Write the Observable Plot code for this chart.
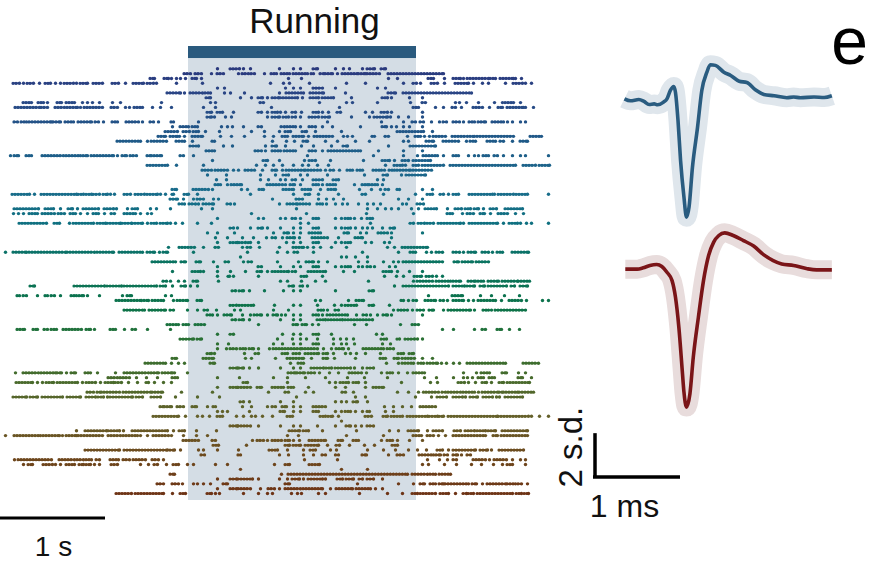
<!DOCTYPE html>
<html><head><meta charset="utf-8">
<script src="https://cdn.jsdelivr.net/npm/d3@7"></script>
<script src="https://cdn.jsdelivr.net/npm/@observablehq/plot@0.6"></script>
<style>
html,body{margin:0;padding:0;background:#fff}
#wrap{position:relative;width:870px;height:568px;overflow:hidden}
#wrap svg{position:absolute}
</style></head><body><div id="wrap"></div>
<script>
// Spike times per trial, in time bins of 1/105 s: single spikes "t", dense bursts "start-end"
const trialSpikes = [
"217 230-239 243 250 279 293 300 313-317 335 343 349 362 367-374 381-385",
"184-190 195-201 211 217-223 238 242-248 251-254 264 271-276 281-289 293-307 311-313 320-323 325-332 337 342-358 361-365 367-379 388-443",
"150-154 164-168 171 176 180 185 192-196 201 288 301 388 397 428-433 444 453-460 463 467-488 490-495 500-513 515 521",
"13-19 23 27-33 39 45-50 55 60 64-73 76 80-87 93-102 112-118 125 133-143 147-153 156 176 202 270 283 289 309 346 365 403 413-416 420 431-437 444 455-468 473 482 488 505 513-522 525 531",
"217 224 285 293 300 313-322 335 377 385",
"167-180 184 190-202 205-210 224 230 244 279 286-303 310-323 345 388-395 403-471",
"206-210 240 251 258-262 267 272-278 280-297 302 310-318 322-333 351 382-387 391 409 422",
"23-31 38-43 47 57-61 66-74 82 87 92 99 112 120 161 210 215 260-263 319 346 352 377 410 422-425 455 459 466 478 494 502 505-513 520",
"15-39 41-47 55-64 67-77 80 84-102 111-117 125 129 134-142 152 160 171 203 215 271 339 413-418 435 443 452-455 461 473-482 489 498-502 507-523 525 533",
"207-211 217-222 233 258-261 267 272-277 280 285 292-295 301 313-318 322 328 337-340 365 372 381-387 391 422",
"207-211 214 225 231 267 272-279 283-288 292-295 300 309-318 322-329 351 369 374-387 390 398 408 422",
"14-17 21-26 29-51 53-60 65-73 78-91 95-98 103 112-117 126-138 142 150-153 158 171-173 198 327 381 403 412-415 420-423 431 439 443-446 453-459 463 469-474 478-485 492-503 507 512 520 525",
"172 180-188 192-197 221 227 232 243 258-261 281-284 287-295 300 309-315 322 332 360 382-386 391 396 403 409 422",
"165-177 183-189 193-198 205 219 251 264 279 285-290 302-306 315 341 397-423 432",
"158-165 170-177 179 184 192-202 220 231 244 264 273 282-287 293-303 308 314-332 343 347 352 372-374 385-388 407 415-420 424 429 433-445 452-467 470-474 477-513 530-541",
"117-140 147 151-166 176-184 192 212-214 272 286 294 303-307 325 337 355 369 403 408 426-433 443-458 466 470-475 487-495 500-503 512 520-527",
"190-198 223 232 265 272-276 285 301 313 331 343-347 388 410-435",
"206-214 255-261 265 272-280 284-295 309-315 322 328-360 378 403 422",
"10 14-18 26-31 42-63 66-80 83-87 91-113 117 122-126 130-136 147-151 154-161 180-183 193 307 373 403 417 423-437 443 453-458 468 474 478 483-488 494-497 503 512 520 525 548",
"212 263-267 279 304 309-315 330 363 382-389 394 402-408 413-430",
"147-167 176 203 256 265 273 282 293 302 308 317 328 385 394-402 405 413-418 422-443 450-515 523-535 539-549",
"202-211 215-227 233 238 245-251 254 262 272-276 282 286-305 308-317 320 325 330-333 339 347-352 357-362 373-381 384 389-394 397-410 413-431",
"207 226 260 275 283-288 300 307 327 364 383-387 401 406-425",
"216 226 260 268 280 285 292-295 302 313-322 333-338 377 383",
"215-220 227 231-241 267-282 285 290-294 300 313-318 322 327-335 354 362-367 369-377 382",
"172-176 193-208 212 241 247 259-263 283-293 302-310 320 328-335 359 371 380 385-388 397-399 422 432",
"12-29 34 41-76 78-83 86-91 93-99 103-107 110 114 124-130 135-144 147-157 160 165 172-173 184-188 197 250 293 305-309 318 338 362-365 383 415 427-432 440-443 448 453-458 469-492 494 498-513 516-527 548",
"170-177 183 193 197-203 213 218 272 296-302 318 326 333 343 398 408 422",
"179-184 189-195 198 203-213 227-230 234 279 287-297 300-309 317-322 326 335 342 347 358 367 373 380 402 406 417-423",
"14-38 45-53 60 68-72 77 83-98 104-113 116 127 132-137 150 156 170 201 212 296 367 377 385 391 398 411 418 425-436 447 455-461 465-470 474-478 483 490-496 505-522",
"13 18 23 29-37 42-54 58-64 70-75 80 87 93-98 104 111-114 124-135 140 147 151 251 306 366 413 447-452 462 467-473 480-484 490 498-507 515 523",
"217 258 263 280 285 292-295 300 313-318 335 341 345-350 354 361 367-372",
"19-46 54-59 69 73-93 97-105 107-120 122-131 132-142 147 151-156 160-167 170 175 182 197 211 300 308 370 410-413 418-424 427-433 438-460 463 469-497 503 509-517 520 526 531 548",
"230-233 237 250 258-262 267 280 293 300 313-318 335 341 345-350 355 362 367 372 382 390-394",
"207 217 234 273 284-288 293 300 309-320 344-348 360 366 378-387 391 422",
"215 227 242 253 266 272-275 282 287-294 299 312-327 338 355-362 391",
"217 230-237 239-245 248-250 258 286 293 300 313-318 335 341 345-350 365 371 384 389",
"168 179-194 203 215-218 242 247-250 259 279 293-303 307 313 320 331 346 387 394 402-427",
"5 13-26 29-65 67-94 97-113 119-142 147-154 159 163-167 193 247 277 287 294-297 313 362 398 410-415 426 431 436-442 453-459 463 468-475 482-488 492 497-502 512-528",
"240 341 346 355 367",
"152-175 181-185 196-200 213 225-228 243 248-251 277 298 306-313 318 327 358 367 383 393 398 403-442 454-458 462-472 476-488",
"217 258-261 280 293 300 313-318 335 341 345-350 358 362 367-370 374 389 395",
"172 192-200 203 217 230 245 257-261 267 272-288 292-295 308-325 343 354 383-391 397 409 422",
"217 228-229 233 258 301-306 322 384 396 403 414-421 426-432 436 442",
"163-166 170 178 184 193-197 218 280 287 301 315 325 368 413 417-432 436-450 453-460 468-475 478-483 488-498 502-517 518-529",
"30-34 74-104 107-121 124-156 160-165 172 181-185 190 197 289-293 300-302 307 394 403-448 453-464 467-474 480-484 488-506 511-514 520-527",
"232-235 239-243 249 264 283 293 300 335 369-373",
"17-19 23-26 37 45-47 51-54 60 71-76 79-83 87 99 122 127-131 165 171 428 452-462 480 491 504 519",
"116-141 144-148 152-163 173 177-187 197-201 315 320 348 356-363 401-403 408 413-416 425-435 440-443 447 453-463 468 473 478-495 501 509-521 526 542 548",
"230-236 239-253 274 293 300 317 334 341 345-356 369-373 389",
"124-142 144 149-165 170-173 187 197 204-207 216 234 240 273 288 318-323 327 335-338 393 398-407 412 417-423 429-433 443 448-470 474 483-488 491 495-525",
"207-212 217 224-231 242 250 254-261 267 273-277 281 285 293 300 313-318 322 327-347 356 363-366 370 377 383-387 391 422",
"232-235 239-243 249 280 293 300 317-325 328-342 345-372",
"167-178 183-188 195-204 258 293-297 302-306 312 318 354 366 400 412-418",
"17-24 33-37 44-47 51-56 63-81 86-90 94 110-115 124 132-135 147 170 442 453 474 482-485 497-501 509 519",
"217 230-233 282 293 300 313-318 331 376 382",
"180-193 197-201 277 292 300 306 317 333 340 346 353 381-386 397-399 405-414 417 422",
"217 228 273 282 293 300 313-318 333 341 346 354 382 390",
"217 226 230-236 240-245 249-253 258 269 273-300 302-317 323 331 336-343 348 363-383 387-393",
"207-211 214 244 255-258 282-287 293-299 305-318 323-327 333 345 350 356 365 380 398-403 409-413",
"172-176 203-213 245 251 275 287-303 311 323-327 334 355 380-385 394-398 402-405 408-414 422 432",
"145-165 171 178 184 210-214 290 298-303 386 398 402-413 418-423 427-437 441 446 453 459 467-505 523-538",
"230-237 239-243 249 258 280 293 300 311-323 326-331 335-350 354 362 367-373",
"15 23-38 41-55 57-61 66 71-75 85-90 97 115 124-148 151-158 162-172 174 187 288-295 297-304 308-314 319 329 338 349-361 366 381 387-392 398 407 413-424 463 476 481-489 502-506 518 525",
"108-117 120-129 136 146 157 172-177 217 239 273 287 305 325 347 364 387 424 436 453 463 467 472 478-483 489-494 518-522 531",
"16-32 37 42 46-53 57-77 82 86-95 100 105-113 115-121 128 137 146-148 154 163 171 243-247 287 329 335 340-348 353-358 365 401 430 437 458-464 468 475 482-486 491 499-503 507-529",
"217 230-237 238-250 257-261 272-283 288-293 308 335 345 365 373-383",
"87-93 97-101 104-119 123-150 152-162 181 212 268 285-288 305 313 342-345 353 397 408 418 423 426-438 442-445 448-460 463-474 478 482-497 499-503 506-517 519-533",
"13-26 30-37 42-62 67-80 86-95 98-103 107 110-132 136-142 151-160 175 197 219 296 355 365 415 431 437-446 453-462 465 470-477 483-492 496 499 505-522",
"240-243 249 280 293 335 341 346 353-357 367",
"160-164 167-171 177-183 192-196 207 213-215 242 251 267 272-275 282-286 293 300 313-325 384 393 402 411 420-435",
"217 222 227 249 280-284 293 300 313-318 335 341 345-350 355 362 367-369 385 393",
"153-178 185 197 202 209 217-222 236 243 251 255 262 272 287-292 320-325 328-332 338 365-371 383-387 391-402 407-427 429-437 439-443 448-497 498-528 531 539 548",
"341",
"230-237 238-250 258 280 293 300 317 335 346-350 355 361 367-373",
"76 85-106 108-119 123 132-167 173 179-184 196 216 289-299 303-308 322 356 389 398 408-418 427 433-442 454-460 465-474 477-485 488-495 502-527",
"5 14-40 43-59 62 66-76 78-102 108-120 123-137 140 147 153-168 171 183 196 207 287 298 346 383 413-421 427-433 438 445 453-485 493-497 501-527",
"183-198 212-215 252 257-263 267 272-281 285-289 293 299 309-325 338-342 353-358 381 387-392 397 409 422",
"213-218 246 285-289 293-300 305-318 327 336-339 349 364 374 392-397",
"85-119 124-167 170-174 180 198 203 217 238 269-277 287 303 310-315 330 336 367 383 395 408 417 426 437-442 448 453-475 480-487 491 499-523",
"201-204 238-240 279 288 303 313 322-325 335 338 362-366 388 397-403 419-433 436-440 444-447 453-457 461 467-470",
"14 18-51 59-74 77-83 86-91 96-99 110-118 123-129 133-145 152-158 163 304 337 427 439 447 453-456 473-485 489 494-506 512 520 525",
"23 28-32 43-52 55 60 66-74 79-83 86-90 94 99 111-117 140 148 154-157 166 173-178 187 193 215 227 274 285-289 309-319 422 428 444 456 471 481 493 502 507-512 525",
"240 341 367",
"170-174 281 288-407 412-427 430-435 439-450",
"217 230-236 238-252 258 279 287 292-299 303 308-322 325 337-342 346-353 359-362 367-373 382",
"157-163 172-178 182 193 197 203 210 223-227 285-289 357 398 413 420-424 430-435 439-443 445-468 472-476 482 487-505 507-515 518-521 527",
"217 230-236 238-250 260 268-274 279 285-300 303-322 330 336-352 356-370 375 382",
"116-131 135-163 172 180-185 207-211 215 219 243 258 267 272 291 297 301 318 325 359 387 402 412-417 420-435 440-448 455 463-466 468-473 477-512 516-521 524-528"
];
const colorRows = [0, 5, 15, 25, 32, 40, 50, 58, 65, 72, 80, 88];
const colorStops = ["#2b3a7e","#2a4585","#1f5a88","#1a6c8c","#0f7080","#0a7360","#0e7348","#33702f","#4a6a2c","#65602a","#6e4a1e","#6e3416"];

const runningStart = 188, runningEnd = 416;
const secondBins = 105;

// Mean waveforms: time (ms from trough), amplitude (s.d.)
const waveTimeBlue = [-0.73,-0.66,-0.56,-0.50,-0.44,-0.38,-0.34,-0.27,-0.23,-0.19,-0.15,-0.13,-0.10,-0.07,-0.03,0,0.03,0.07,0.13,0.18,0.24,0.28,0.34,0.44,0.52,0.62,0.71,0.81,0.91,1.03,1.18,1.26,1.34,1.50,1.62,1.71];
const waveAmpBlue  = [0,-0.09,-0.03,-0.12,-0.26,-0.23,-0.27,-0.15,0,0.38,0.56,0.30,-0.98,-2.80,-4.47,-5.38,-4.92,-3.11,-1.29,0.38,1.21,1.55,1.52,1.21,1.06,0.80,0.74,0.41,0.20,0.14,0.05,0.08,0.05,0.08,0.06,0.14];
const waveTimeRed  = [-0.72,-0.58,-0.51,-0.43,-0.35,-0.29,-0.23,-0.17,-0.13,-0.09,-0.05,-0.03,0,0.04,0.08,0.14,0.20,0.26,0.32,0.38,0.45,0.55,0.67,0.79,0.91,1.02,1.12,1.26,1.42,1.53,1.71];
const waveAmpRed   = [0,0,0.06,0.17,0.21,0.12,-0.14,-0.52,-1.27,-2.64,-4.61,-5.59,-6.27,-5.67,-4.0,-2.18,-0.52,0.62,1.23,1.53,1.65,1.53,1.30,1.05,0.65,0.39,0.24,0.17,0.02,-0.03,-0.03];

const spikes = [], bursts = [];
trialSpikes.forEach((s, row) => {
  s.split(" ").forEach(tok => {
    const p = tok.split("-").map(Number);
    if (p.length === 1) spikes.push({row, t: p[0]});
    else bursts.push({row, t1: p[0], t2: p[1]});
  });
});

const font = "'Liberation Sans', sans-serif";
const wrap = document.getElementById("wrap");

// rows are laid out on a linear scale; row r sits at 68.3 + 4.826 r
const raster = Plot.plot({
  width: 870, height: 568, margin: 0,
  style: {background: "transparent", fontFamily: font, overflow: "visible"},
  x: {domain: [0, 870], range: [0, 870], axis: null},
  y: {domain: [-14.152, 103.54], range: [0, 568], axis: null},
  color: {type: "linear", domain: colorRows, range: colorStops, legend: false},
  marks: [
    Plot.rect([{a: runningStart, b: runningEnd}], {x1: "a", x2: "b", y1: -2.13, y2: 89.45, fill: "#d4dde5"}),
    Plot.rect([{a: runningStart, b: runningEnd}], {x1: "a", x2: "b", y1: -4.62, y2: -2.13, fill: "#2a5a7e"}),
    Plot.ruleY(bursts, {y: "row", x1: "t1", x2: "t2", stroke: "row", strokeWidth: 3.2, strokeLinecap: "round", strokeDasharray: "0.01 3"}),
    Plot.ruleY(bursts, {y: "row", x1: "t1", x2: "t2", stroke: "row", strokeWidth: 2, strokeLinecap: "butt"}),
    Plot.dot(spikes, {x: "t", y: "row", fill: "row", r: 1.7, stroke: "none"}),
    Plot.dot(bursts, {x: "t2", y: "row", fill: "row", r: 1.7, stroke: "none"}),
    Plot.text(["Running"], {x: 314, y: -9.64, text: d => d, fontSize: 35, fill: "#111", textAnchor: "middle", fontFamily: font}),
    Plot.text(["e"], {x: 849, y: -5.3, text: d => d, fontSize: 66, fill: "#000", textAnchor: "middle", fontFamily: font}),
    Plot.ruleY([93.1], {x1: 0, x2: secondBins, stroke: "#000", strokeWidth: 3}),
    Plot.text(["1 s"], {x: 53, y: 99.1, text: d => d, fontSize: 28, fill: "#111", textAnchor: "middle", fontFamily: font}),
    Plot.ruleX([594.5], {y1: 75.6, y2: 84.8, stroke: "#000", strokeWidth: 3.5}),
    Plot.ruleY([84.6], {x1: 593, x2: 680, stroke: "#000", strokeWidth: 3.5}),
    Plot.text(["1 ms"], {x: 624, y: 90.7, text: d => d, fontSize: 32, fill: "#111", textAnchor: "middle", fontFamily: font}),
    Plot.text(["2 s.d."], {x: 571, y: 78.4, text: d => d, fontSize: 33, fill: "#111", textAnchor: "middle", rotate: -90, fontFamily: font})
  ]
});
wrap.appendChild(raster);

function wave(times, amps, line, band, left, top, yDomain) {
  const data = times.map((t, i) => ({t, a: amps[i]}));
  const svg = Plot.plot({
    width: 270, height: 210, margin: 0,
    style: {background: "transparent", overflow: "visible"},
    x: {domain: [-1.0118, 2.1647], range: [0, 270], axis: null},
    y: {domain: yDomain, range: [0, 210], axis: null},
    marks: [
      Plot.line(data, {x: "t", y: "a", stroke: band, strokeWidth: 19, strokeLinejoin: "round", strokeLinecap: "butt", curve: "monotone-x"}),
      Plot.line(data, {x: "t", y: "a", stroke: line, strokeWidth: 3.6, strokeLinejoin: "round", strokeLinecap: "butt", curve: "monotone-x"})
    ]
  });
  svg.style.left = left + "px";
  svg.style.top = top + "px";
  wrap.appendChild(svg);
}
wave(waveTimeRed, waveAmpRed, "#7a1518", "#e8dcdc", 600, 210, [2.667, -6.879]);
wave(waveTimeBlue, waveAmpBlue, "#2a5c80", "#dfe6ec", 600, 20, [3.56, -5.985]);
</script></body></html>
